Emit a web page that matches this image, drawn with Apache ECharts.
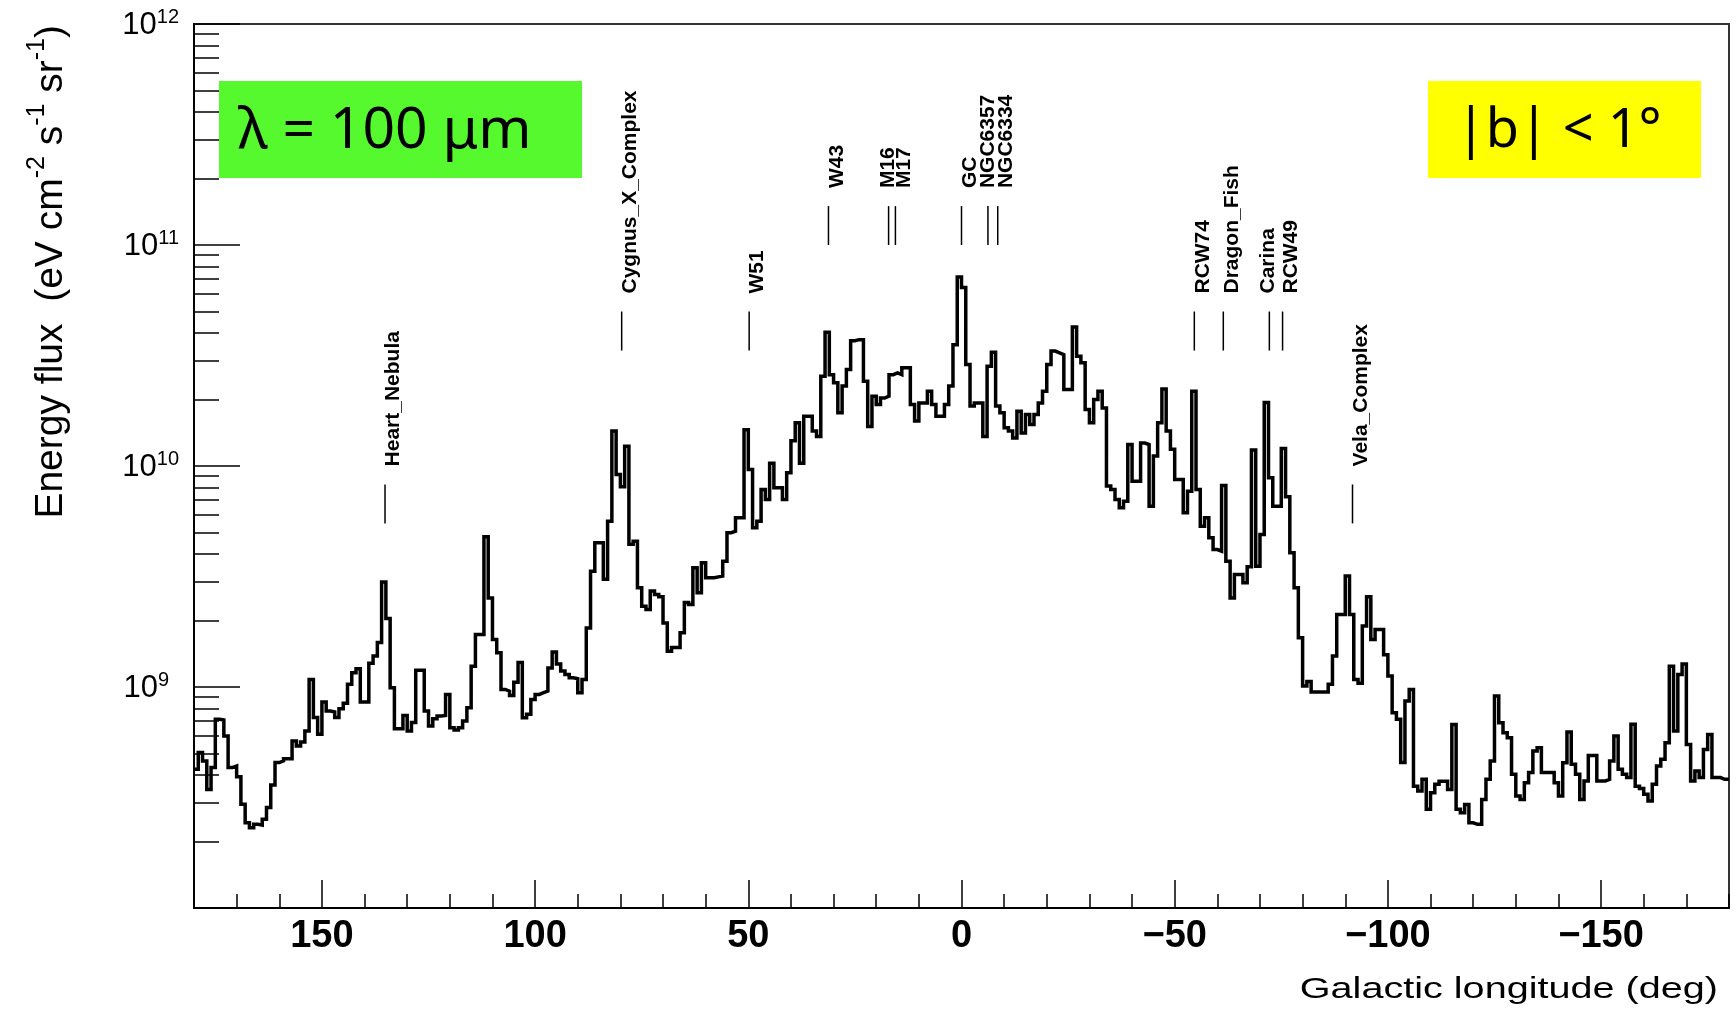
<!DOCTYPE html>
<html>
<head>
<meta charset="utf-8">
<script src="https://cdn.jsdelivr.net/npm/echarts@6/dist/echarts.min.js"></script>
<style>
  html, body { margin: 0; padding: 0; background: #fff; }
  #chart { width: 1736px; height: 1014px; }
</style>
</head>
<body>
<div id="chart"></div>
<script>
// Energy flux along the Galactic plane (|b| < 1 deg) at 100 um, in 1 deg longitude bins.
// Bins run from l = +180 down to l = -180; each array holds 60 consecutive bins.
const binStart = 180;   // upper longitude edge of the first bin (deg)
const binWidth = 1;     // bin width (deg)

// l = 180 .. 120
const fluxOuterNorth = [
  4.24e8, 5.05e8, 4.63e8, 3.44e8, 4.32e8, 7.14e8, 7.09e8, 6.00e8, 4.32e8, 4.39e8,
  3.93e8, 2.95e8, 2.43e8, 2.31e8, 2.39e8, 2.37e8, 2.52e8, 2.85e8, 3.60e8, 4.55e8,
  4.63e8, 4.74e8, 4.74e8, 5.70e8, 5.41e8, 5.64e8, 6.32e8, 1.08e9, 7.27e8, 6.11e8,
  8.56e8, 7.79e8, 7.71e8, 7.27e8, 7.98e8, 8.44e8, 1.03e9, 1.16e9, 1.21e9, 8.56e8,
  8.56e8, 1.28e9, 1.38e9, 1.59e9, 2.99e9, 2.04e9, 9.93e8, 6.48e8, 6.48e8, 7.44e8,
  6.32e8, 6.90e8, 1.19e9, 1.19e9, 7.79e8, 6.66e8, 7.19e8, 7.39e8, 7.44e8, 9.26e8
];
// l = 120 .. 60
const fluxCygnus = [
  6.54e8, 6.39e8, 6.54e8, 7.01e8, 8.06e8, 1.24e9, 1.73e9, 1.73e9, 4.78e9, 2.53e9,
  1.64e9, 1.43e9, 9.75e8, 9.58e8, 9.16e8, 1.05e9, 1.29e9, 7.26e8, 7.52e8, 8.79e8,
  9.26e8, 9.42e8, 9.58e8, 1.22e9, 1.44e9, 1.27e9, 1.18e9, 1.14e9, 1.10e9, 1.09e9,
  9.42e8, 1.08e9, 1.85e9, 3.34e9, 4.49e9, 4.49e9, 3.07e9, 5.63e9, 1.44e10, 9.15e9,
  8.05e9, 1.23e10, 4.42e9, 4.57e9, 2.81e9, 2.32e9, 2.24e9, 2.72e9, 2.62e9, 2.56e9,
  1.95e9, 1.45e9, 1.51e9, 1.51e9, 1.76e9, 2.41e9, 2.36e9, 3.46e9, 2.67e9, 3.65e9
];
// l = 60 .. 0
const fluxInnerNorth = [
  3.12e9, 3.12e9, 3.15e9, 3.18e9, 3.71e9, 4.99e9, 5.07e9, 5.83e9, 5.83e9, 1.46e10,
  9.64e9, 5.25e9, 5.63e9, 7.83e9, 7.06e9, 1.03e10, 7.97e9, 7.97e9, 7.06e9, 9.31e9,
  1.30e10, 1.57e10, 1.03e10, 1.68e10, 1.68e10, 1.44e10, 1.36e10, 2.55e10, 4.03e10, 2.59e10,
  2.38e10, 1.74e10, 2.30e10, 2.73e10, 3.69e10, 3.73e10, 3.73e10, 2.42e10, 1.51e10, 2.07e10,
  1.90e10, 2.03e10, 2.07e10, 2.59e10, 2.64e10, 2.59e10, 2.78e10, 2.78e10, 1.90e10, 1.60e10,
  1.93e10, 1.93e10, 2.18e10, 1.90e10, 1.68e10, 1.68e10, 1.90e10, 2.30e10, 3.54e10, 7.17e10
];
// l = 0 .. -60
const fluxInnerSouth = [
  6.42e10, 2.88e10, 1.87e10, 1.93e10, 1.93e10, 1.36e10, 2.83e10, 3.27e10, 1.87e10, 1.74e10,
  1.49e10, 1.44e10, 1.34e10, 1.77e10, 1.41e10, 1.71e10, 1.54e10, 1.71e10, 1.93e10, 2.18e10,
  2.88e10, 3.31e10, 3.25e10, 3.19e10, 2.22e10, 2.22e10, 4.26e10, 3.14e10, 2.93e10, 1.80e10,
  1.57e10, 2.00e10, 2.18e10, 1.83e10, 8.11e9, 7.83e9, 7.06e9, 6.47e9, 6.93e9, 1.25e10,
  8.54e9, 8.54e9, 1.27e10, 1.25e10, 6.58e9, 1.11e10, 1.57e10, 2.23e10, 1.44e10, 1.19e10,
  8.69e9, 8.69e9, 6.14e9, 7.69e9, 2.18e10, 7.83e9, 5.34e9, 5.83e9, 4.73e9, 4.19e9
];
// l = -60 .. -120
const fluxCarinaVela = [
  4.12e9, 8.16e9, 3.71e9, 2.53e9, 3.23e9, 3.23e9, 2.96e9, 3.50e9, 1.18e10, 3.52e9,
  4.90e9, 1.94e10, 8.84e9, 6.58e9, 6.58e9, 1.20e10, 7.25e9, 4.05e9, 2.81e9, 1.67e9,
  1.01e9, 1.06e9, 9.49e8, 9.49e8, 9.49e8, 9.49e8, 1.03e9, 1.38e9, 2.13e9, 2.13e9,
  3.18e9, 2.13e9, 1.08e9, 1.04e9, 1.89e9, 2.56e9, 1.64e9, 1.82e9, 1.82e9, 1.40e9,
  1.12e9, 7.65e8, 7.14e8, 4.55e8, 8.64e8, 9.75e8, 3.56e8, 3.38e8, 3.82e8, 2.80e8,
  3.32e8, 3.63e8, 3.75e8, 3.75e8, 3.44e8, 6.77e8, 2.80e8, 2.70e8, 2.94e8, 2.43e8
];
// l = -120 .. -180
const fluxOuterSouth = [
  2.39e8, 2.39e8, 3.10e8, 3.82e8, 4.62e8, 9.10e8, 6.89e8, 6.21e8, 5.90e8, 4.03e8,
  3.21e8, 3.10e8, 3.69e8, 4.10e8, 5.13e8, 5.31e8, 4.10e8, 4.10e8, 4.10e8, 3.69e8,
  3.21e8, 4.54e8, 6.25e8, 4.47e8, 4.03e8, 3.10e8, 3.76e8, 4.90e8, 4.90e8, 3.76e8,
  3.76e8, 3.82e8, 4.62e8, 6.00e8, 4.24e8, 4.03e8, 3.89e8, 6.78e8, 3.56e8, 3.47e8,
  3.27e8, 3.05e8, 3.63e8, 4.39e8, 4.71e8, 5.60e8, 1.24e9, 6.32e8, 1.14e9, 1.27e9,
  5.50e8, 3.76e8, 4.17e8, 3.89e8, 5.22e8, 6.10e8, 3.89e8, 3.89e8, 3.82e8, 3.82e8
];

// Named star-forming regions: longitude and the flux span of their marker tick
const sourceNames = ['Heart_Nebula', 'Cygnus_X_Complex', 'W51', 'W43', 'M16', 'M17', 'GC',
  'NGC6357', 'NGC6334', 'RCW74', 'Dragon_Fish', 'Carina', 'RCW49', 'Vela_Complex'];
const sourceLongitudes = [135.2, 79.7, 49.8, 31.2, 17.1, 15.5, 0.0,
  -6.2, -8.5, -54.6, -61.4, -72.2, -75.3, -91.7];
const markerLow = [5.5e9, 3.33e10, 3.33e10, 1e11, 1e11, 1e11, 1e11,
  1e11, 1e11, 3.33e10, 3.33e10, 3.33e10, 3.33e10, 5.5e9];
const markerHigh = [8.25e9, 5e10, 5e10, 1.5e11, 1.5e11, 1.5e11, 1.5e11,
  1.5e11, 1.5e11, 5e10, 5e10, 5e10, 5e10, 8.25e9];

// Axis decorations
const xLabelValues = [150, 100, 50, 0, -50, -100, -150];
const xMajorTicks = [150, 100, 50, 0, -50, -100, -150];
const yDecades = [8, 9, 10, 11];
const yMinorMultipliers = [2, 3, 4, 5, 6, 7, 8, 9];

// Labels squeezed next to a close neighbour are pushed left (px)
const labelShift = { M16: -9, NGC6357: -8, Carina: -10 };

const FONT = 'Liberation Sans, Arial, Helvetica, sans-serif';

const flux = [].concat(fluxOuterNorth, fluxCygnus, fluxInnerNorth,
  fluxInnerSouth, fluxCarinaVela, fluxOuterSouth);
// Bin edges for a step outline: value i spans [binStart - i, binStart - i - 1]
const histPoints = flux.map((v, i) => [binStart - i * binWidth, v]);
histPoints.push([binStart - flux.length * binWidth, flux[flux.length - 1]]);

const yMinorTickPositions = [];
yDecades.forEach(d => yMinorMultipliers.forEach(m => yMinorTickPositions.push(d + Math.log10(m))));

const markerData = sourceLongitudes.map((l, i) => [l, markerLow[i], markerHigh[i]]);

const chart = echarts.init(document.getElementById('chart'), null, { renderer: 'canvas' });

chart.setOption({
  animation: false,
  backgroundColor: '#fff',
  grid: {
    left: 194, top: 24, width: 1535, height: 884,
    show: true, borderColor: '#333', borderWidth: 2, backgroundColor: 'transparent'
  },
  xAxis: [
    {
      type: 'value', min: -180, max: 180, interval: 10, inverse: true, position: 'bottom',
      axisLine: { show: true, onZero: false, lineStyle: { color: '#000', width: 2 } },
      axisTick: { show: true, inside: true, length: 14, lineStyle: { color: '#000', width: 1.5 } },
      splitLine: { show: false },
      axisLabel: {
        customValues: xLabelValues,
        margin: 10,
        color: '#000', fontFamily: FONT, fontWeight: 'bold', fontSize: 38,
        formatter: v => (v < 0 ? '\u2212' + Math.abs(v) : String(v))
      }
    },
    {
      type: 'value', min: -180, max: 180, inverse: true, position: 'bottom',
      axisLine: { show: false, onZero: false },
      axisTick: { show: true, inside: true, length: 28, customValues: xMajorTicks,
        lineStyle: { color: '#000', width: 1.5 } },
      axisLabel: { show: false },
      splitLine: { show: false }
    }
  ],
  yAxis: [
    {
      type: 'log', logBase: 10, min: 1e8, max: 1e12, position: 'left',
      axisLine: { show: true, onZero: false, lineStyle: { color: '#000', width: 2 } },
      axisTick: { show: true, inside: true, length: 46, lineStyle: { color: '#000', width: 1.5 } },
      splitLine: { show: false },
      minorTick: { show: false },
      axisLabel: {
        margin: 15,
        formatter: function (v) {
          const e = Math.round(Math.log10(v));
          if (e < 9) return '';
          return '{b|10}{' + (e < 10 ? 'e1' : 'e2') + '|' + e + '}';
        },
        rich: {
          b: { fontFamily: FONT, fontSize: 31, color: '#000', lineHeight: 34, verticalAlign: 'bottom' },
          e2: { fontFamily: FONT, fontSize: 20, color: '#000', lineHeight: 22, verticalAlign: 'top' },
          e1: { fontFamily: FONT, fontSize: 20, color: '#000', lineHeight: 22, verticalAlign: 'top', padding: [0, 10, 0, 0] }
        }
      }
    },
    {
      type: 'value', min: 8, max: 12, position: 'left',
      axisLine: { show: false, onZero: false },
      axisTick: { show: true, inside: true, length: 25, customValues: yMinorTickPositions,
        lineStyle: { color: '#000', width: 1.5 } },
      axisLabel: { show: false },
      splitLine: { show: false }
    }
  ],
  series: [
    {
      type: 'line',
      name: 'flux',
      xAxisIndex: 0, yAxisIndex: 0,
      data: histPoints,
      step: 'end',
      showSymbol: false,
      symbol: 'none',
      lineStyle: { color: '#000', width: 3.5, join: 'miter' },
      z: 3
    },
    {
      type: 'custom',
      name: 'regions',
      xAxisIndex: 0, yAxisIndex: 0,
      data: markerData,
      encode: { x: 0, y: [1, 2] },
      z: 4,
      renderItem: function (params, api) {
        const l = api.value(0);
        const top = api.coord([l, api.value(2)]);
        const bottom = api.coord([l, api.value(1)]);
        const name = sourceNames[params.dataIndex];
        const shift = labelShift[name] || 0;
        return {
          type: 'group',
          children: [
            { type: 'line',
              shape: { x1: top[0], y1: top[1], x2: bottom[0], y2: bottom[1] },
              style: { stroke: '#000', lineWidth: 1.5 } },
            { type: 'text', x: top[0] + shift - 2, y: top[1] - 18, rotation: Math.PI / 2,
              style: { text: name, fontFamily: FONT, fontWeight: 'bold', fontSize: 21,
                fill: '#000', align: 'left', verticalAlign: 'top' } }
          ]
        };
      }
    }
  ],
  graphic: [
    { type: 'text', x: 48, y: 25, rotation: Math.PI / 2, z: 10,
      style: {
        text: '{t|Energy flux  (eV cm}{s|-2}{t| s}{s|-1}{t| sr}{s|-1}{t|)}',
        align: 'right', verticalAlign: 'middle',
        rich: {
          t: { fontFamily: FONT, fontSize: 39, lineHeight: 46, verticalAlign: 'bottom', fill: '#000' },
          s: { fontFamily: FONT, fontSize: 25, lineHeight: 29, verticalAlign: 'top', fill: '#000' }
        }
      } },
    { type: 'text', x: 1718, y: 1005, scaleX: 1.32, z: 10,
      style: { text: 'Galactic longitude (deg)', fontFamily: FONT, fontSize: 30, fill: '#000',
        align: 'right', verticalAlign: 'bottom' } },
    { type: 'rect', z: 10, shape: { x: 219, y: 81, width: 363, height: 97 }, style: { fill: '#55f92d' } },
    { type: 'text', x: 238, y: 132, z: 11,
      style: { text: '\u03bb = 100 \u03bcm', fontFamily: 'Noto Sans', fontSize: 57, fill: '#000',
        align: 'left', verticalAlign: 'middle' } },
    { type: 'rect', z: 10, shape: { x: 1428, y: 81, width: 273, height: 97 }, style: { fill: '#ffff00' } },
    { type: 'text', x: 1456, y: 132, z: 11,
      style: { text: '|b| < 1\u00b0', fontFamily: 'Noto Sans', fontSize: 54, fill: '#000',
        align: 'left', verticalAlign: 'middle' } }
  ]
});
</script>
</body>
</html>
